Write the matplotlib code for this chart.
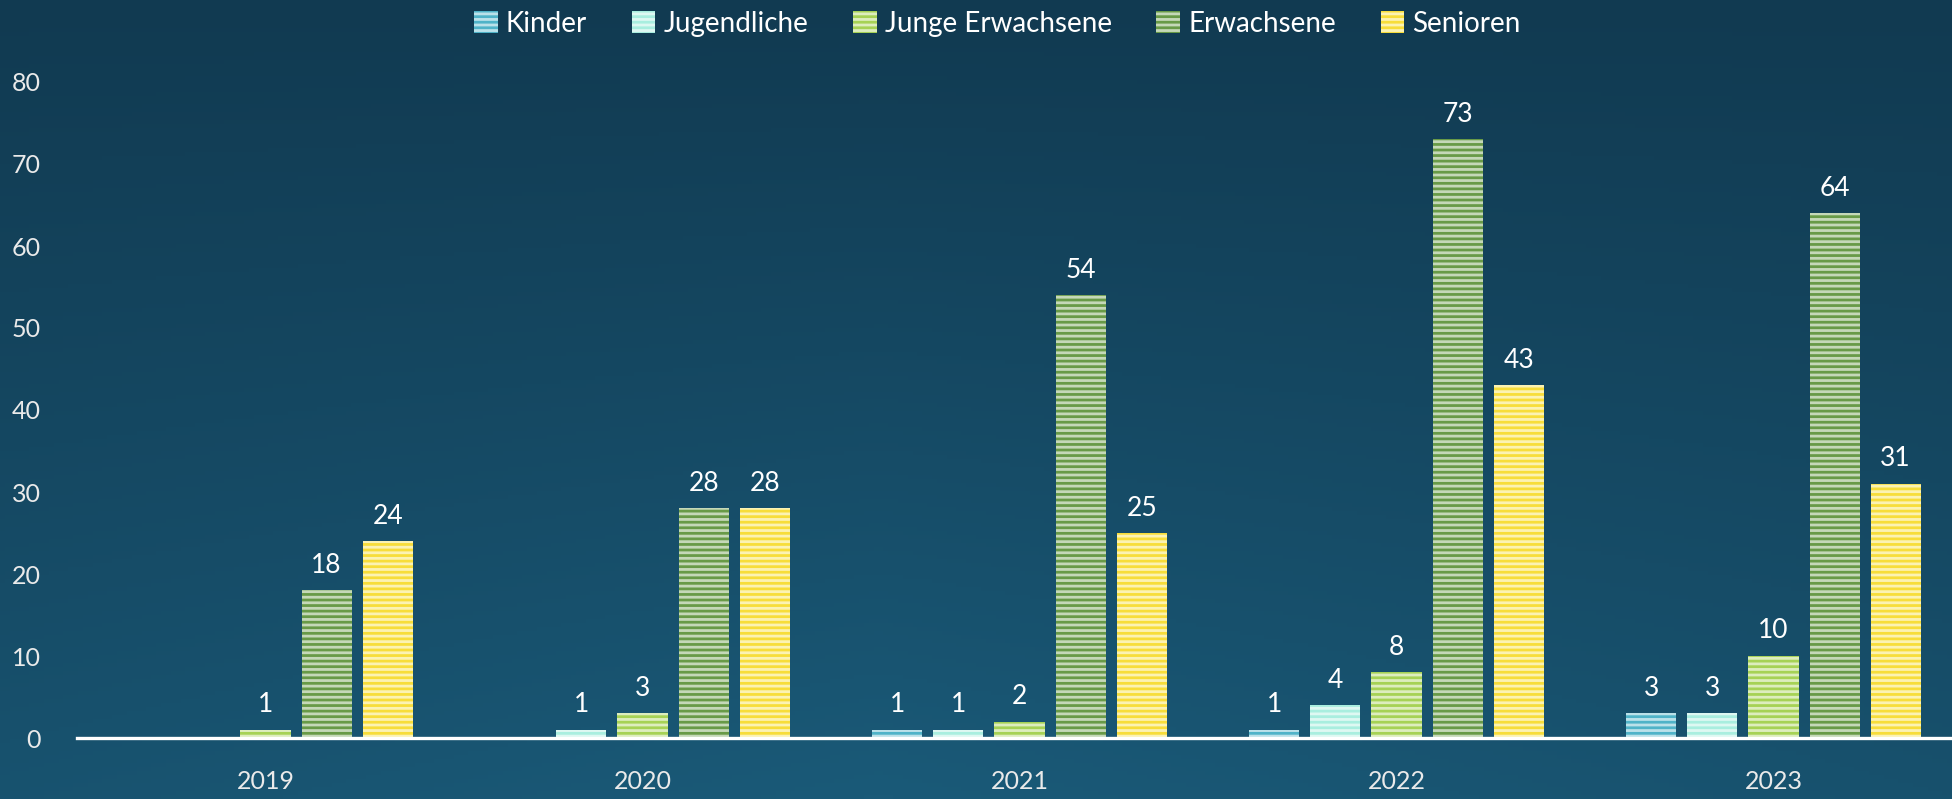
import numpy as np
import matplotlib
matplotlib.use("Agg")
import matplotlib.pyplot as plt
from matplotlib.patches import Patch
from matplotlib.colors import LinearSegmentedColormap

years = ["2019", "2020", "2021", "2022", "2023"]
series_names = ["Kinder", "Jugendliche", "Junge Erwachsene", "Erwachsene", "Senioren"]
kinder = [0, 0, 1, 1, 3]
jugendliche = [0, 1, 1, 4, 3]
junge_erwachsene = [1, 3, 2, 8, 10]
erwachsene = [18, 28, 54, 73, 64]
senioren = [24, 28, 25, 43, 31]
yticks = [0, 10, 20, 30, 40, 50, 60, 70, 80]

colors = ["#4fb3c8", "#a9eedf", "#a6d255", "#689a47", "#f7dd3a"]

plt.rcParams['font.family'] = ['Lato', 'DejaVu Sans']
plt.rcParams['hatch.linewidth'] = 2.0

fig = plt.figure(figsize=(19.52, 7.99), dpi=100)

# background gradient
bg = fig.add_axes([0, 0, 1, 1], zorder=-10)
bg.axis("off")
yy, xx = np.mgrid[0:1:200j, 0:1:400j]
val = 0.75 * yy + 0.35 * (1 - np.abs(xx - 0.45) * 1.6).clip(0) * yy
cmap = LinearSegmentedColormap.from_list("bg", ["#113a51", "#1a5a78"])
bg.imshow(val, cmap=cmap, aspect="auto", extent=[0, 1, 0, 1], origin="upper", vmin=0, vmax=1.1)

ax = fig.add_axes([77 / 1952, 61 / 799, 1885 / 1952, 656 / 799])
ax.set_facecolor("none")

data = [kinder, jugendliche, junge_erwachsene, erwachsene, senioren]
x = np.arange(len(years))
step = 0.162
width = 0.133
for i, (name, vals, c) in enumerate(zip(series_names, data, colors)):
    pos = x + (i - 2) * step
    bars = ax.bar(pos, vals, width=width, color=c, edgecolor=(1, 1, 1, 0.62),
                  hatch="---", linewidth=0, zorder=3)
    labels = [str(v) if v != 0 else "" for v in vals]
    ax.bar_label(bars, labels=labels, padding=9, color="white", fontsize=19, zorder=4)

ax.set_xlim(-0.5, 4.5)
ax.set_ylim(0, 80)
ax.set_yticks(yticks)
ax.set_xticks(x)
ax.set_xticklabels(years)
ax.tick_params(axis="both", length=0, colors="#eaeaea", labelsize=18)
ax.tick_params(axis="y", pad=26)
ax.tick_params(axis="x", pad=23)
for s in ["left", "right", "top"]:
    ax.spines[s].set_visible(False)
ax.spines["bottom"].set_color("white")
ax.spines["bottom"].set_linewidth(2.4)
ax.spines["bottom"].set_zorder(5)

handles = [Patch(facecolor=c, edgecolor=(1, 1, 1, 0.62), hatch="---", linewidth=0) for c in colors]
fig.legend(handles, series_names, loc="upper center", bbox_to_anchor=(0.511, 1.018), ncol=5,
           frameon=False, fontsize=20, labelcolor="white", handlelength=0.85, handleheight=0.85,
           handletextpad=0.3, columnspacing=1.6)

fig.savefig("out.png", dpi=100)
